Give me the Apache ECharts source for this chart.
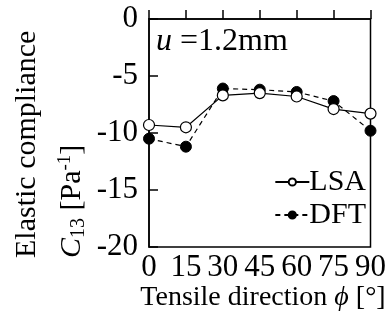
<!DOCTYPE html>
<html><head><meta charset="utf-8">
<script src="https://cdn.jsdelivr.net/npm/echarts@6/dist/echarts.min.js"></script>
<style>html,body{margin:0;padding:0;background:#fff}#c{width:389px;height:323px}</style>
</head><body><div id="c"></div>
<script>
var angles = [0, 15, 30, 45, 60, 75, 90];
var lsa = [-9.3, -9.5, -6.7, -6.5, -6.8, -7.9, -8.3];
var dft = [-10.5, -11.2, -6.1, -6.2, -6.4, -7.2, -9.8];
var xTicks = [0, 15, 30, 45, 60, 75, 90];
var yTicks = [0, -5, -10, -15, -20];

var FONT = 'Liberation Serif';
var chart = echarts.init(document.getElementById('c'));
function pairs(v){ return angles.map(function(a,i){ return [a, v[i]]; }); }
var axisCommon = {
  axisLine:{show:true, lineStyle:{color:'#000', width:1.5}},
  axisTick:{show:true, inside:true, length:9, lineStyle:{color:'#000', width:1.5}},
  splitLine:{show:false},
  axisLabel:{color:'#000', fontFamily:FONT, fontSize:31}
};
chart.setOption({
  animation:false,
  grid:{left:149, right:12, top:19, bottom:76, show:true, borderColor:'#000', borderWidth:1.5},
  xAxis:Object.assign({type:'value', min:0, max:90, interval:15}, axisCommon,
    {axisLabel:Object.assign({}, axisCommon.axisLabel, {margin:5, customValues:xTicks})}),
  yAxis:Object.assign({type:'value', min:-20, max:0, interval:5}, axisCommon,
    {axisLabel:Object.assign({}, axisCommon.axisLabel, {margin:11, customValues:yTicks})}),
  legend:{
    orient:'vertical', right:18, top:162, itemGap:3, itemWidth:34, itemHeight:9,
    textStyle:{color:'#000', fontFamily:FONT, fontSize:30, lineHeight:30, padding:[0,0,0,-5]},
    data:['LSA','DFT']
  },
  series:[
    {name:'LSA', type:'line', data:pairs(lsa), symbol:'circle', symbolSize:11,
     itemStyle:{color:'#fff', borderColor:'#000', borderWidth:1.2},
     lineStyle:{color:'#000', width:1.2, type:'solid'}, z:3},
    {name:'DFT', type:'line', data:pairs(dft), symbol:'circle', symbolSize:11,
     itemStyle:{color:'#000', borderColor:'#000', borderWidth:1},
     lineStyle:{color:'#000', width:1.2, type:[5,4]}, z:2}
  ],
  graphic:[
    {type:'text', left:156, top:26, style:{
      text:'{i|u} =1.2mm', fill:'#000', font:'32px "Liberation Serif"',
      rich:{i:{fontStyle:'italic', fontFamily:FONT, fontSize:32}}}},
    {type:'text', x:27, y:258, rotation:Math.PI/2, style:{
      text:'Elastic compliance', fill:'#000', font:'30px "Liberation Serif"',
      textAlign:'left', textVerticalAlign:'middle'}},
    {type:'text', x:72, y:258, rotation:Math.PI/2, style:{
      text:'{i|C}{sub|13} [Pa{sup|-1}]', fill:'#000', font:'30px "Liberation Serif"',
      textAlign:'left', textVerticalAlign:'middle',
      rich:{i:{fontStyle:'italic', fontFamily:FONT, fontSize:30},
            sub:{fontFamily:FONT, fontSize:20, padding:[14,0,0,0]},
            sup:{fontFamily:FONT, fontSize:19, padding:[0,0,13,0]}}}},
    {type:'text', x:263, y:298, style:{
      text:'Tensile direction {i|ϕ} [°]', fill:'#000', font:'28px "Liberation Serif"',
      textAlign:'center', textVerticalAlign:'middle',
      rich:{i:{fontStyle:'italic', fontFamily:FONT, fontSize:28}}}}
  ]
});
</script></body></html>
